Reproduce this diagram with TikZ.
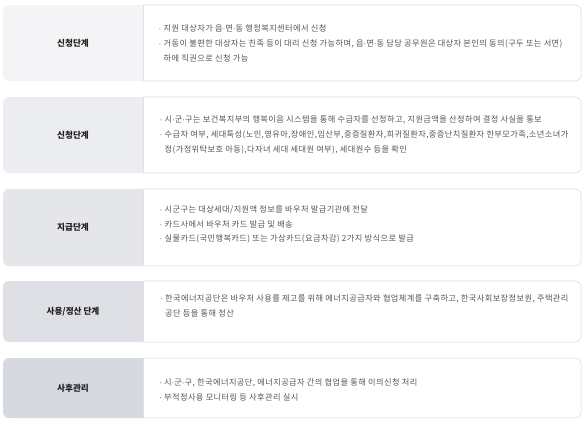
\documentclass[tikz,border=0pt]{standalone}
\usepackage{fontspec}
\setmainfont{Noto Sans CJK KR}
\newfontfamily\bodyf[LetterSpace=5]{Noto Sans CJK KR}
\newfontfamily\latf{Liberation Sans}
\definecolor{gA}{HTML}{F4F4F6}
\definecolor{gB}{HTML}{ECEDF0}
\definecolor{gC}{HTML}{E5E6EA}
\definecolor{gD}{HTML}{DEE0E5}
\definecolor{gE}{HTML}{D6D9DF}
\definecolor{bordc}{HTML}{E2E2E2}
\definecolor{bodyc}{HTML}{555555}
\definecolor{labc}{HTML}{1F1F1F}
\newcommand{\rowbox}[3]{%
  \begin{scope}
    \clip (3,#1) rectangle (143,#2);
    \fill[#3, rounded corners=6pt] (3,#1) rectangle (170,#2);
  \end{scope}
  \begin{scope}
    \clip (142.6,#1-1) rectangle (590,#2+1);
    \draw[bordc, line width=0.8pt, rounded corners=6pt] (120,#1) rectangle (581,#2);
  \end{scope}
  \draw[bordc, line width=0.8pt] (143,#1) -- (143,#2);
}
\newcommand{\md}{{\latf ·}}
\newcommand{\bl}{{\latf ·} }
\newcommand{\ind}{\phantom{\bl}}
\tikzset{
  labtext/.style={font=\fontsize{8.6}{10}\selectfont\bfseries, text=labc, inner sep=0pt},
  bodytext/.style={font=\bodyf\fontsize{8.2}{14.8}\selectfont, text=bodyc, align=left, anchor=west, inner sep=0pt}
}
\begin{document}
\begin{tikzpicture}[x=1pt,y=-1pt]
\useasboundingbox[fill=white] (0,0) rectangle (585,426);
\rowbox{5}{81}{gA}
\rowbox{97}{173}{gB}
\rowbox{189}{266}{gC}
\rowbox{281}{342}{gD}
\rowbox{358}{418}{gE}

\node[labtext] (l1) at (73,43.5) {신청단계};
\node[labtext] (l2) at (73,135.5) {신청단계};
\node[labtext] (l3) at (73,227.5) {지급단계};
\node[labtext] (l4) at (73,311.5) {사용/정산 단계};
\node[labtext] (l5) at (73,388) {사후관리};

\node[bodytext] (t1) at (158.5,43.5) {\bl 지원 대상자가 읍\md 면\md 동 행정복지센터에서 신청\\
\bl 거동이 불편한 대상자는 친족 등이 대리 신청 가능하며, 읍\md 면\md 동 담당 공무원은 대상자 본인의 동의(구두 또는 서면)\\
\ind 하에 직권으로 신청 가능};
\node[bodytext] (t2) at (159.5,135) {\bl 시\md 군\md 구는 보건복지부의 행복이음 시스템을 통해 수급자를 선정하고, 지원금액을 산정하여 결정 사실을 통보\\
\bl 수급자 여부, 세대특성(노인,영유아,장애인,임산부,중증질환자,희귀질환자,중증난치질환자 한부모가족,소년소녀가\\
\ind 정(가정위탁보호 아동),다자녀 세대 세대원 여부), 세대원수 등을 확인};
\node[bodytext] (t3) at (159.5,224.5) {\bl 시군구는 대상세대/지원액 정보를 바우처 발급기관에 전달\\
\bl 카드사에서 바우처 카드 발급 및 배송\\
\bl 실물카드(국민행복카드) 또는 가상카드(요금차감) 2가지 방식으로 발급};
\node[bodytext] (t4) at (160,306) {\bl 한국에너지공단은 바우처 사용률 제고를 위해 에너지공급자와 협업체계를 구축하고, 한국사회보장정보원, 주택관리\\
\ind 공단 등을 통해 정산};
\node[bodytext] (t5) at (159,389.5) {\bl 시\md 군\md 구, 한국에너지공단, 에너지공급자 간의 협업을 통해 이의신청 처리\\
\bl 부적정사용 모니터링 등 사후관리 실시};
\end{tikzpicture}
\end{document}
